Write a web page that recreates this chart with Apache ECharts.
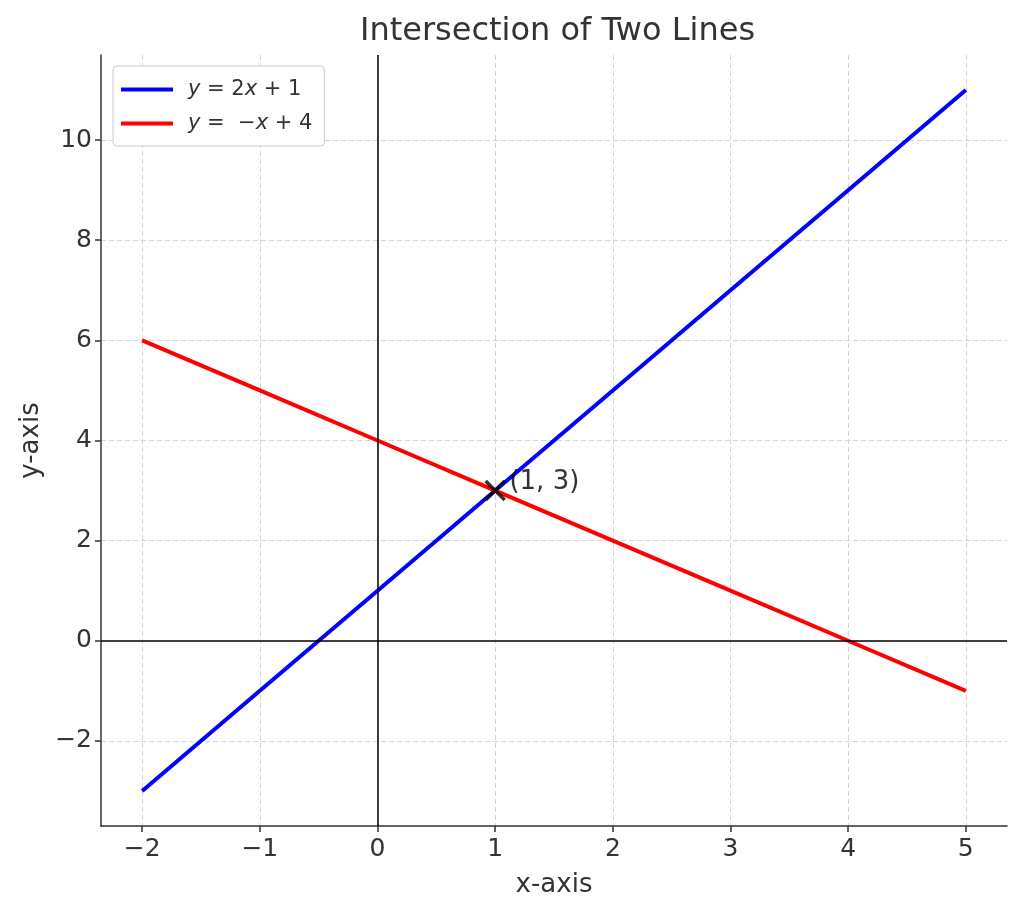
<!DOCTYPE html>
<html><head><meta charset="utf-8">
<script src="https://cdn.jsdelivr.net/npm/echarts@6/dist/echarts.min.js"></script>
<style>html,body{margin:0;padding:0;background:#fff}#c{width:1024px;height:914px}</style>
</head><body><div id="c"></div>
<script>
const xValues = [-2, -1, 0, 1, 2, 3, 4, 5];
const blueY = [-3, -1, 1, 3, 5, 7, 9, 11];   // y = 2x + 1
const redY = [6, 5, 4, 3, 2, 1, 0, -1];      // y = -x + 4
const xTicks = [-2, -1, 0, 1, 2, 3, 4, 5];
const yTicks = [-2, 0, 2, 4, 6, 8, 10];
const intersection = [1, 3];
const intersectionLabel = '(1, 3)';
const titleText = 'Intersection of Two Lines';
const seriesNames = ['y = 2x + 1', 'y = -x + 4'];

const FONT = 'DejaVu Sans';
const chart = echarts.init(document.getElementById('c'), null, {renderer: 'canvas'});
const fmtNum = v => (v < 0 ? '\u2212' + Math.abs(v) : String(v));
const legendRich = {
  i: {fontStyle: 'italic', fontFamily: FONT, fontSize: 21, color: '#333'},
  n: {fontFamily: FONT, fontSize: 21, color: '#333'}
};
chart.setOption({
  animation: false,
  title: {text: titleText, left: 355, top: 11,
    textStyle: {fontFamily: FONT, fontSize: 32, fontWeight: 'normal', color: '#333'}},
  grid: {left: 101, right: 17, top: 55, bottom: 88, containLabel: false},
  legend: {
    left: 113, top: 66, orient: 'vertical', itemWidth: 52, itemHeight: 4, itemGap: 13,
    padding: [13, 12, 12, 8],
    backgroundColor: '#fff', borderColor: '#ccc', borderWidth: 1, borderRadius: 4,
    icon: 'rect',
    data: seriesNames,
    formatter: function (name) {
      if (name === seriesNames[0]) return '{i|y}{n| = 2}{i|x}{n| + 1}';
      return '{i|y}{n| =  \u2212}{i|x}{n| + 4}';
    },
    textStyle: {rich: legendRich, padding: [0, 0, 0, 10]}
  },
  xAxis: {
    type: 'value', min: -2.35, max: 5.35,
    name: 'x-axis', nameLocation: 'middle', nameGap: 46,
    nameTextStyle: {fontFamily: FONT, fontSize: 26, color: '#333'},
    axisLine: {show: true, onZero: false, lineStyle: {color: '#333', width: 1.5}},
    axisTick: {show: true, length: 6, inside: false, customValues: xTicks, lineStyle: {color: '#333', width: 1.5}},
    axisLabel: {customValues: xTicks, formatter: fmtNum, fontFamily: FONT, fontSize: 25, color: '#333', margin: 11},
    splitLine: {show: true, lineStyle: {color: '#d4d4d4', type: [5, 3], width: 1}}
  },
  yAxis: {
    type: 'value', min: -3.7, max: 11.7,
    name: 'y-axis', nameLocation: 'middle', nameGap: 56,
    nameTextStyle: {fontFamily: FONT, fontSize: 26, color: '#333'},
    axisLine: {show: true, onZero: false, lineStyle: {color: '#333', width: 1.5}},
    axisTick: {show: true, length: 6, inside: false, customValues: yTicks, lineStyle: {color: '#333', width: 1.5}},
    axisLabel: {customValues: yTicks, formatter: fmtNum, fontFamily: FONT, fontSize: 25, color: '#333', margin: 9},
    splitLine: {show: true, lineStyle: {color: '#d4d4d4', type: [5, 3], width: 1}}
  },
  series: [
    {
      type: 'line', name: '_zero', silent: true, data: [], z: 1,
      markLine: {silent: true, symbol: 'none', label: {show: false},
        lineStyle: {color: '#000', type: 'solid', width: 1.5},
        data: [{xAxis: 0}, {yAxis: 0}]}
    },
    {
      type: 'line', name: seriesNames[0], showSymbol: false, symbol: 'none',
      data: xValues.map((x, i) => [x, blueY[i]]),
      lineStyle: {color: '#0000ff', width: 4}, itemStyle: {color: '#0000ff'}, z: 3
    },
    {
      type: 'line', name: seriesNames[1], showSymbol: false, symbol: 'none',
      data: xValues.map((x, i) => [x, redY[i]]),
      lineStyle: {color: '#ff0000', width: 4}, itemStyle: {color: '#ff0000'}, z: 3
    },
    {
      type: 'scatter', name: '_pt', z: 5,
      data: [intersection],
      symbol: 'path://M0,0L10,10M10,0L0,10', symbolSize: 19,
      itemStyle: {color: 'rgba(0,0,0,0)', borderColor: '#000', borderWidth: 3.5},
      label: {show: true, position: 'right', distance: 3, offset: [0, -8],
        formatter: intersectionLabel, fontFamily: FONT, fontSize: 26, color: '#000'}
    }
  ]
});
</script></body></html>
